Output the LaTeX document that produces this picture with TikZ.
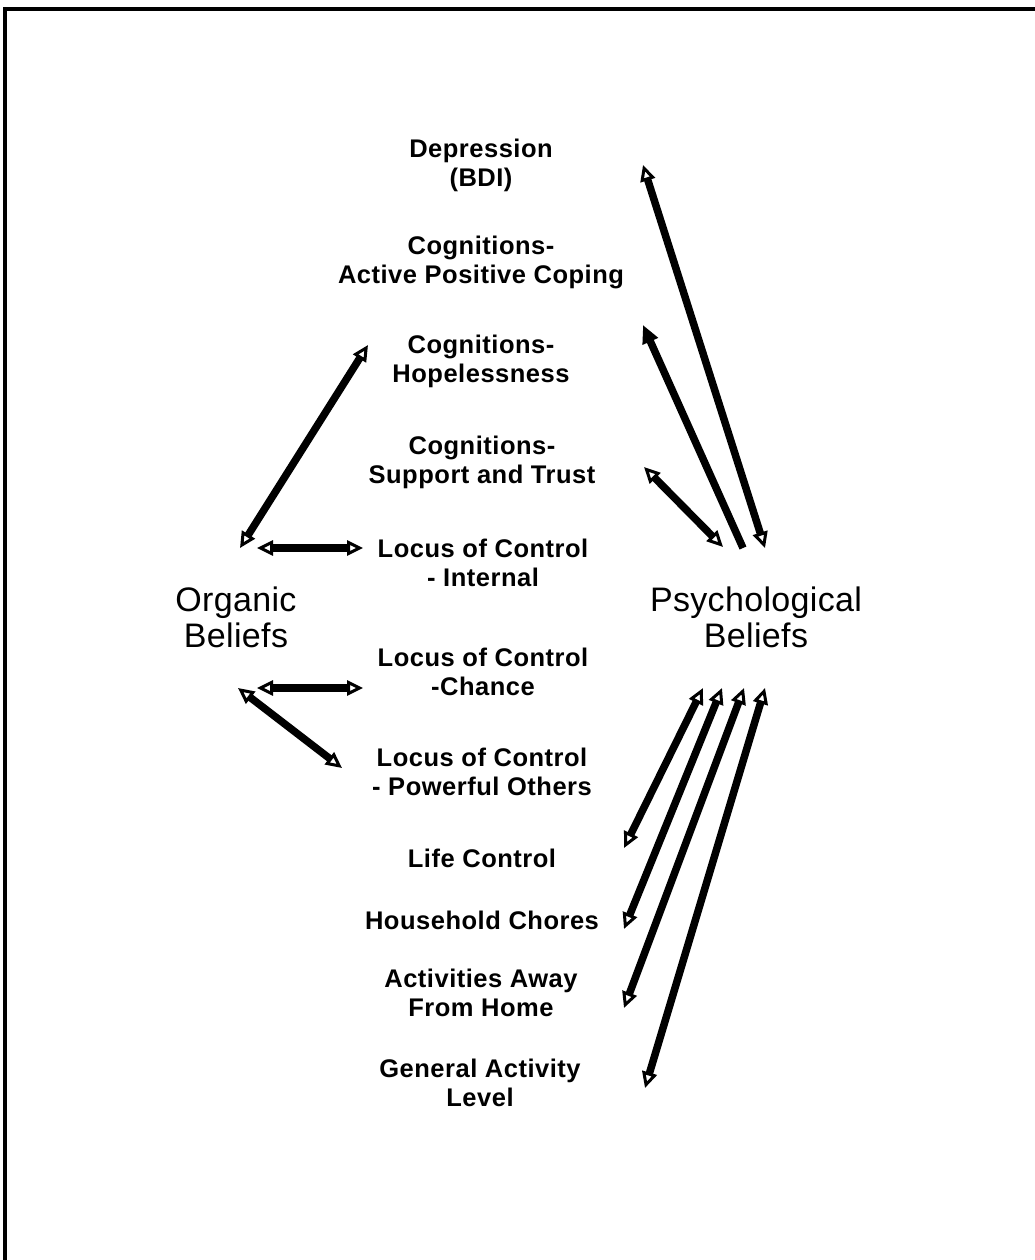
\documentclass[tikz,border=0pt]{standalone}
\usepackage{fontspec}
\setmainfont{Liberation Sans}
\newfontfamily\labfont[LetterSpace=2]{Liberation Sans}
\newfontfamily\bigfont[LetterSpace=1]{Liberation Sans}
\usetikzlibrary{arrows.meta}
\begin{document}
\begin{tikzpicture}[x=1pt,y=-1pt,
  lab/.style={align=center,font=\labfont\bfseries\fontsize{25.5}{29}\selectfont,inner sep=0pt},
  big/.style={align=center,font=\bigfont\fontsize{34}{36}\selectfont,inner sep=0pt},
  otip/.tip={Triangle[open,length=16pt,width=15pt,line width=3pt]},
  ftip/.tip={Triangle[length=18pt,width=16pt]},
  both/.style={line width=7.5pt,otip-otip},
  single/.style={line width=7.5pt,-ftip}]
\useasboundingbox (0,0) rectangle (1035,1260);
\fill[white] (0,0) rectangle (1035,1260);
% frame
\coordinate (fTL) at (5,9);
\coordinate (fTR) at (1035,9);
\coordinate (fBL) at (5,1260);
\draw[line width=3.5pt] (fTR) -- (fTL) -- (fBL);
% labels
\node[lab] (dep) at (481,165) {Depression\\(BDI)};
\node[lab] (cap) at (481,262) {Cognitions-\\Active Positive Coping};
\node[lab] (hop) at (481,361) {Cognitions-\\Hopelessness};
\node[lab] (sup) at (482,462) {Cognitions-\\Support and Trust};
\node[lab] (int) at (483,563) {Locus of Control\\- Internal};
\node[lab] (cha) at (483,672) {Locus of Control\\-Chance};
\node[lab] (pow) at (482,772) {Locus of Control\\- Powerful Others};
\node[lab] (life) at (482,858) {Life Control};
\node[lab] (house) at (482,920) {Household Chores};
\node[lab] (act) at (481,993) {Activities Away\\From Home};
\node[lab] (gen) at (480,1083) {General Activity\\Level};
\node[big] (org) at (236,617) {Organic\\Beliefs};
\node[big] (psy) at (756,617) {Psychological\\Beliefs};
% arrow end points
\coordinate (oTop) at (240,548);
\coordinate (oHop) at (368,345);
\coordinate (oIntL) at (257,548);
\coordinate (oIntR) at (363,548);
\coordinate (oChaL) at (257,688);
\coordinate (oChaR) at (363,688);
\coordinate (oBot) at (238,688);
\coordinate (oPow) at (342,768);
\coordinate (pDep) at (643,165);
\coordinate (pDepB) at (765,548);
\coordinate (pCap) at (643,325);
\coordinate (pCapB) at (743,548);
\coordinate (pSup) at (644,467);
\coordinate (pSupB) at (723,547);
\coordinate (pL1) at (703,688);
\coordinate (pLife) at (624,848);
\coordinate (pL2) at (722,688);
\coordinate (pHouse) at (624,929);
\coordinate (pL3) at (744,688);
\coordinate (pAct) at (624,1008);
\coordinate (pL4) at (765,688);
\coordinate (pGen) at (645,1088);
% organic arrows
\draw[both] (oTop) -- (oHop);
\draw[both] (oIntL) -- (oIntR);
\draw[both] (oChaL) -- (oChaR);
\draw[both] (oBot) -- (oPow);
% psychological arrows
\draw[both] (pDepB) -- (pDep);
\draw[single] (pCapB) -- (pCap);
\draw[both] (pSupB) -- (pSup);
\draw[both] (pL1) -- (pLife);
\draw[both] (pL2) -- (pHouse);
\draw[both] (pL3) -- (pAct);
\draw[both] (pL4) -- (pGen);
\end{tikzpicture}
\end{document}
